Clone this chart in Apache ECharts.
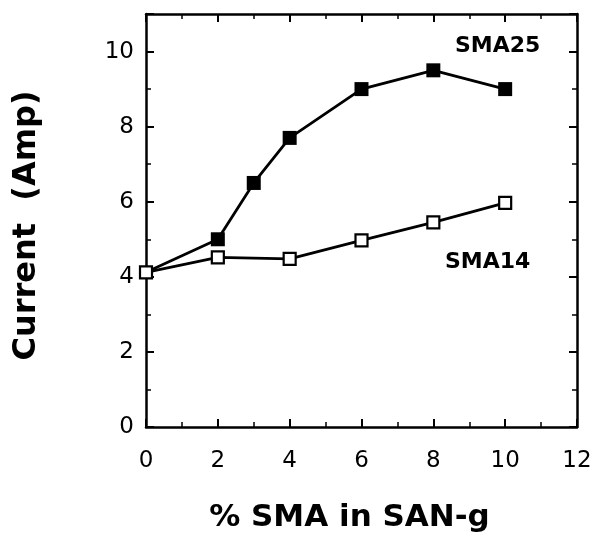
<!DOCTYPE html>
<html>
<head>
<meta charset="utf-8">
<script src="https://cdn.jsdelivr.net/npm/echarts@6/dist/echarts.min.js"></script>
<style>
html,body{margin:0;padding:0;background:#fff;}
#c{width:596px;height:538px;}
</style>
</head>
<body>
<div id="c"></div>
<script>
var xValues = [0, 2, 3, 4, 6, 8, 10];
var sma25 = [4.12, 5.0, 6.5, 7.7, 9.0, 9.5, 9.0];
var xValues14 = [0, 2, 4, 6, 8, 10];
var sma14 = [4.12, 4.52, 4.48, 4.97, 5.45, 5.97];
var xTicks = [0, 2, 4, 6, 8, 10, 12];
var yTicks = [0, 2, 4, 6, 8, 10];
var seriesNames = ['SMA25', 'SMA14'];
var xTitle = '% SMA in SAN-g';
var yTitle = 'Current  (Amp)';

function pairs(xs, ys){ return xs.map(function(x,i){ return [x, ys[i]]; }); }

var FONT = '"DejaVu Sans", "Liberation Sans", Arial, sans-serif';
var chart = echarts.init(document.getElementById('c'), null, {renderer:'canvas'});

function axisCommon() {
  return {
    axisLine: {show: true, onZero: false, lineStyle: {color: '#000', width: 2.5}},
    axisTick: {show: true, inside: true, length: 8, lineStyle: {color: '#000', width: 2}},
    minorTick: {show: true, splitNumber: 2, length: 5, lineStyle: {color: '#000', width: 1.5}},
    splitLine: {show: false},
    minorSplitLine: {show: false}
  };
}

chart.setOption({
  animation: false,
  backgroundColor: '#fff',
  grid: {left: 146, top: 14, right: 19, bottom: 111, containLabel: false, outerBoundsMode: 'none'},
  xAxis: [
    Object.assign(axisCommon(), {
      type: 'value', min: xTicks[0], max: xTicks[xTicks.length-1], interval: 2,
      position: 'bottom',
      axisLabel: {show: true, color: '#000', fontSize: 23, fontFamily: FONT, margin: 23},
      name: xTitle, nameLocation: 'middle', nameGap: 75,
      nameTextStyle: {color: '#000', fontSize: 31, fontWeight: 'bold', fontFamily: FONT, padding: [0, 24, 0, 0]}
    }),
    Object.assign(axisCommon(), {
      type: 'value', min: xTicks[0], max: xTicks[xTicks.length-1], interval: 2,
      position: 'top', axisLabel: {show: false}
    })
  ],
  yAxis: [
    Object.assign(axisCommon(), {
      type: 'value', min: yTicks[0], max: 11, interval: 2,
      position: 'left',
      axisLabel: {show: true, color: '#000', fontSize: 23, fontFamily: FONT, margin: 12, showMaxLabel: false},
      name: yTitle, nameLocation: 'middle', nameGap: 103, nameRotate: 90,
      nameTextStyle: {color: '#000', fontSize: 32, fontWeight: 'bold', fontFamily: FONT, padding: [0, 10, 0, 0]}
    }),
    Object.assign(axisCommon(), {
      type: 'value', min: yTicks[0], max: 11, interval: 2,
      position: 'right', axisLabel: {show: false}
    })
  ],
  series: [
    {
      name: seriesNames[0], type: 'line', xAxisIndex: 0, yAxisIndex: 0,
      data: pairs(xValues, sma25),
      symbol: 'rect',
      symbolSize: function(v, p){ return p.dataIndex === 0 ? 0 : 14; },
      lineStyle: {color: '#000', width: 2.8},
      itemStyle: {color: '#000', borderColor: '#000', borderWidth: 0},
      z: 3
    },
    {
      name: seriesNames[1], type: 'line', xAxisIndex: 0, yAxisIndex: 0,
      data: pairs(xValues14, sma14),
      symbol: 'rect', symbolSize: 12,
      lineStyle: {color: '#000', width: 2.8},
      itemStyle: {color: '#fff', borderColor: '#000', borderWidth: 2.2},
      z: 4
    }
  ],
  graphic: [
    {type: 'text', left: 455, top: 35, z: 10,
     style: {text: seriesNames[0], fill: '#000', font: 'bold 22px ' + FONT}},
    {type: 'text', left: 445, top: 251, z: 10,
     style: {text: seriesNames[1], fill: '#000', font: 'bold 22px ' + FONT}}
  ]
});
</script>
</body>
</html>
